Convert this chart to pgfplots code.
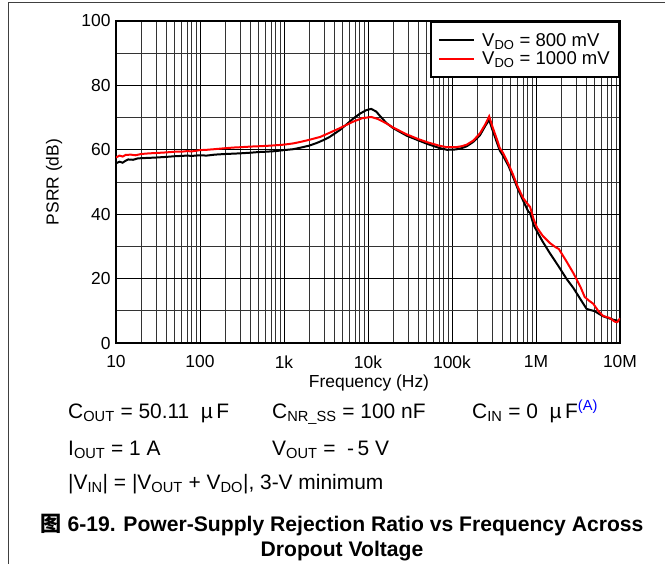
\documentclass[border=0pt]{standalone}
\usepackage{pgfplots}
\pgfplotsset{compat=1.18}
\usepackage{fontspec}
\setmainfont{Liberation Sans}
\newfontfamily\cjk{Noto Sans CJK SC}
\pgfplotstableread{
f v
10 55.8
11 56.3
12 56.0
13 56.6
14 57.0
16 56.9
18 57.3
20 57.4
25 57.5
30 57.6
40 57.8
50 58.0
60 58.1
70 58.2
80 58.1
100 58.3
120 58.2
150 58.5
200 58.7
250 58.8
300 58.9
400 59.1
500 59.3
600 59.4
700 59.5
800 59.6
1000 59.9
1300 60.2
1600 60.7
2000 61.3
2500 62.2
3000 63.1
3500 64.0
4600 66.1
5500 67.8
6600 69.6
8000 71.2
9500 72.3
10900 72.7
12500 71.9
14000 70.4
16600 68.3
20000 66.7
28800 64.4
40000 62.9
50000 61.9
70000 60.6
87000 60.0
110000 60.1
130000 60.5
150000 61.1
180000 62.5
215000 64.5
250000 67.5
277000 69.3
300000 66.5
340000 62.5
370000 59.8
408000 58.0
470000 55.0
533000 51.6
600000 48.2
703000 44.2
810000 40.8
850000 40.4
940000 36.6
1030000 34.6
1200000 31.5
1470000 27.8
1870000 23.7
2300000 20.0
2800000 17.0
3400000 13.5
4000000 10.6
4500000 10.2
5000000 9.9
5500000 9.2
6300000 8.3
7500000 7.6
8700000 7.1
10000000 6.8
}\blackdata
\pgfplotstableread{
f v
10 57.6
11 58.2
12 57.9
13 58.4
15 58.5
17 58.3
20 58.7
25 58.9
30 59.0
40 59.2
50 59.4
60 59.4
70 59.6
80 59.5
100 59.9
120 60.0
150 60.2
200 60.5
250 60.7
300 60.8
400 61.0
500 61.1
700 61.3
1000 61.6
1300 62.0
1600 62.5
2000 63.1
2700 64.0
3500 65.3
4600 66.7
6600 68.7
8500 69.8
10900 70.2
13000 69.6
16600 68.2
20000 66.9
28800 64.8
40000 63.3
50000 62.4
70000 61.3
87000 60.8
110000 60.8
130000 61.1
150000 61.6
180000 62.9
215000 65.1
250000 68.0
277000 70.4
300000 67.5
340000 63.5
370000 60.6
408000 58.9
470000 55.6
533000 52.3
600000 48.8
703000 45.0
810000 42.9
850000 42.3
940000 38.3
1030000 35.8
1200000 33.3
1470000 31.0
1700000 29.8
1870000 29.2
2300000 25.4
2800000 21.6
3400000 17.3
3800000 14.3
4300000 13.1
4800000 12.2
5500000 10.0
6300000 8.4
7500000 7.8
8700000 6.6
9300000 6.5
10000000 7.7
}\reddata
\newcommand\axfont{\fontsize{17.5}{21}\selectfont}
\newcommand\legfont{\fontsize{18.6}{22}\selectfont}
\begin{document}
\begin{tikzpicture}
\useasboundingbox (-116bp,-221bp) rectangle (549bp,343bp);
\draw[black!75, line width=1pt] (-108bp,-221bp) -- (-108bp,340bp) -- (549bp,340bp);
\begin{axis}[
  at={(0,0)}, anchor=south west, scale only axis,
  width=504bp, height=322bp,
  xmode=log, xmin=10, xmax=1e7, ymin=0, ymax=100,
  xtick={10,100,1000,10000,100000,1000000,10000000},
  xticklabels={10,100,1k,10k,100k,1M,10M},
  ytick={0,20,40,60,80,100},
  minor y tick num=1,
  grid=both,
  major grid style={black, line width=1pt},
  minor grid style={black!80, line width=0.9pt},
  major tick length=0pt, minor tick length=0pt,
  axis line style={line width=2.6pt},
  /pgf/number format/assume math mode=true,
  tick label style={font=\axfont},
  xticklabel style={yshift=-9bp},
  yticklabel style={xshift=-2bp},
  xlabel={Frequency (Hz)}, ylabel={PSRR (dB)},
  every axis x label/.style={at={(axis description cs:0.502,-0.139)}, anchor=base, font=\axfont},
  every axis y label/.style={at={(axis description cs:-0.123,0.5)}, anchor=center, rotate=90, font=\axfont},
  legend cell align=left,
  legend image code/.code={\draw[#1] (0bp,0bp) -- (35bp,0bp); \path (40bp,0bp);},
  legend style={at={(1,1)}, anchor=north east, draw=black, line width=2.4pt, fill=white,
    font=\legfont,
    inner xsep=7bp, inner ysep=9bp, row sep=0bp},
]
\addplot[black, line width=2pt] table[x=f, y=v] {\blackdata};
\addlegendentry{\legfont V\textsubscript{DO} = 800 mV}
\addplot[red, line width=2pt] table[x=f, y=v] {\reddata};
\addlegendentry{\legfont V\textsubscript{DO} = 1000 mV}
\end{axis}
\begin{scope}[every node/.style={inner sep=0pt, font=\fontsize{21}{25}\selectfont}]
\node[anchor=base west] at (-48bp,-75bp) {C\textsubscript{OUT} = 50.11 \ µ\,F};
\node[anchor=base west] at (156bp,-75bp) {C\textsubscript{NR\_SS} = 100 nF};
\node[anchor=base west] at (356bp,-75bp) {C\textsubscript{IN} = 0 \ µ\,F\textsuperscript{\color{blue}(A)}};
\node[anchor=base west] at (-48bp,-112bp) {I\textsubscript{OUT} = 1 A};
\node[anchor=base west] at (156bp,-112bp) {V\textsubscript{OUT} = \ -\,5 V};
\node[anchor=base west] at (-48bp,-146bp) {|V\textsubscript{IN}| = |V\textsubscript{OUT} + V\textsubscript{DO}|, 3-V minimum};
\node[anchor=base, font=\fontsize{21.2}{25}\selectfont\bfseries] at (226bp,-188bp) {{\cjk 图} 6-19. Power-Supply Rejection Ratio vs Frequency Across};
\node[anchor=base, font=\fontsize{21.2}{25}\selectfont\bfseries] at (226bp,-213bp) {Dropout Voltage};
\end{scope}
\end{tikzpicture}
\end{document}
